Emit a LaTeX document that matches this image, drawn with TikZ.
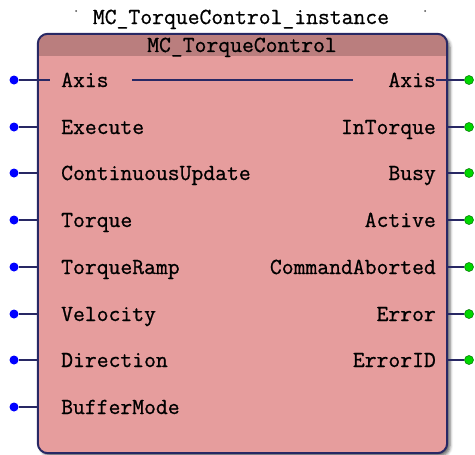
\documentclass[tikz,border=0pt]{standalone}
\usepackage{fontspec}
\usepackage{xcolor}
\usepackage{tikz}
\usetikzlibrary{shadows.blur}

\newfontfamily\pinfont[FakeBold=0.8]{Latin Modern Mono}
\definecolor{bodyred}{RGB}{230,157,157}
\definecolor{headred}{RGB}{186,126,126}
\definecolor{fbnavy}{RGB}{40,40,100}
\definecolor{ingo}{RGB}{0,0,255}
\definecolor{outgo}{RGB}{0,215,0}

\begin{document}
\begin{tikzpicture}[
  x=1pt, y=-1pt,
  fbox/.style={fill=bodyred, draw=none, rounded corners=10pt, inner sep=0pt,
               blur shadow={shadow xshift=3pt, shadow yshift=-3pt,
                            shadow blur radius=3pt, shadow opacity=60}},
  fbline/.style={draw=fbnavy, line width=2pt, rounded corners=10pt},
  lbl/.style={font=\pinfont\fontsize{23}{23}\selectfont, inner sep=0pt,
              text height=14pt, text depth=0pt},
  indot/.style={circle, fill=ingo, inner sep=0pt, minimum size=9pt},
  outdot/.style={circle, fill=outgo, draw=green!45!black, line width=0.5pt,
                 inner sep=0pt, minimum size=9pt},
  pin/.style={draw=fbnavy, line width=1.3pt},
  speck/.style={circle, fill=black!70, inner sep=0pt, minimum size=2pt}
]
\useasboundingbox (0,0) rectangle (475,455);

% instance name
\node[lbl] (inst) at (241,17) {MC\_TorqueControl\_instance};
\node[speck] (sp1) at (76,11) {};
\node[speck] (sp2) at (425,11) {};

% function block body
\node[fbox, minimum width=409pt, minimum height=419pt] (fb) at (242.5,243.5) {};
\begin{scope}
  \clip[rounded corners=10pt] (fb.north west) rectangle (fb.south east);
  \fill[headred] (fb.north west) rectangle ([yshift=-22pt]fb.north east);
\end{scope}
\draw[fbline] (fb.north west) rectangle (fb.south east);
\node[lbl] (fbname) at (242,45) {MC\_TorqueControl};

% inputs
\node[indot] (i1) at (14,80) {};
\node[indot] (i2) at (14,127) {};
\node[indot] (i3) at (14,173) {};
\node[indot] (i4) at (14,220) {};
\node[indot] (i5) at (14,267) {};
\node[indot] (i6) at (14,314) {};
\node[indot] (i7) at (14,360) {};
\node[indot] (i8) at (14,407) {};

\node[lbl, anchor=west] (li1) at (61,80) {Axis};
\node[lbl, anchor=west] (li2) at (61,127) {Execute};
\node[lbl, anchor=west] (li3) at (61,173) {ContinuousUpdate};
\node[lbl, anchor=west] (li4) at (61,220) {Torque};
\node[lbl, anchor=west] (li5) at (61,267) {TorqueRamp};
\node[lbl, anchor=west] (li6) at (61,314) {Velocity};
\node[lbl, anchor=west] (li7) at (61,360) {Direction};
\node[lbl, anchor=west] (li8) at (61,407) {BufferMode};

% outputs
\node[outdot] (o1) at (469,80) {};
\node[outdot] (o2) at (469,127) {};
\node[outdot] (o3) at (469,173) {};
\node[outdot] (o4) at (469,220) {};
\node[outdot] (o5) at (469,267) {};
\node[outdot] (o6) at (469,314) {};
\node[outdot] (o7) at (469,360) {};

\node[lbl, anchor=east] (lo1) at (436,80) {Axis};
\node[lbl, anchor=east] (lo2) at (436,127) {InTorque};
\node[lbl, anchor=east] (lo3) at (436,173) {Busy};
\node[lbl, anchor=east] (lo4) at (436,220) {Active};
\node[lbl, anchor=east] (lo5) at (436,267) {CommandAborted};
\node[lbl, anchor=east] (lo6) at (436,314) {Error};
\node[lbl, anchor=east] (lo7) at (436,360) {ErrorID};

% in-out axis link
\coordinate (axin) at (50,80);
\coordinate (axl) at (132,80);
\coordinate (axr) at (353,80);
\coordinate (axout) at (436,80);

\draw[pin] (i1) -- (axin);
\draw[pin] (i2) -- (i2 -| fb.west);
\draw[pin] (i3) -- (i3 -| fb.west);
\draw[pin] (i4) -- (i4 -| fb.west);
\draw[pin] (i5) -- (i5 -| fb.west);
\draw[pin] (i6) -- (i6 -| fb.west);
\draw[pin] (i7) -- (i7 -| fb.west);
\draw[pin] (i8) -- (i8 -| fb.west);

\draw[pin] (axl) -- (axr);

\draw[pin] (axout) -- (o1);
\draw[pin] (o2 -| fb.east) -- (o2);
\draw[pin] (o3 -| fb.east) -- (o3);
\draw[pin] (o4 -| fb.east) -- (o4);
\draw[pin] (o5 -| fb.east) -- (o5);
\draw[pin] (o6 -| fb.east) -- (o6);
\draw[pin] (o7 -| fb.east) -- (o7);
\end{tikzpicture}
\end{document}
